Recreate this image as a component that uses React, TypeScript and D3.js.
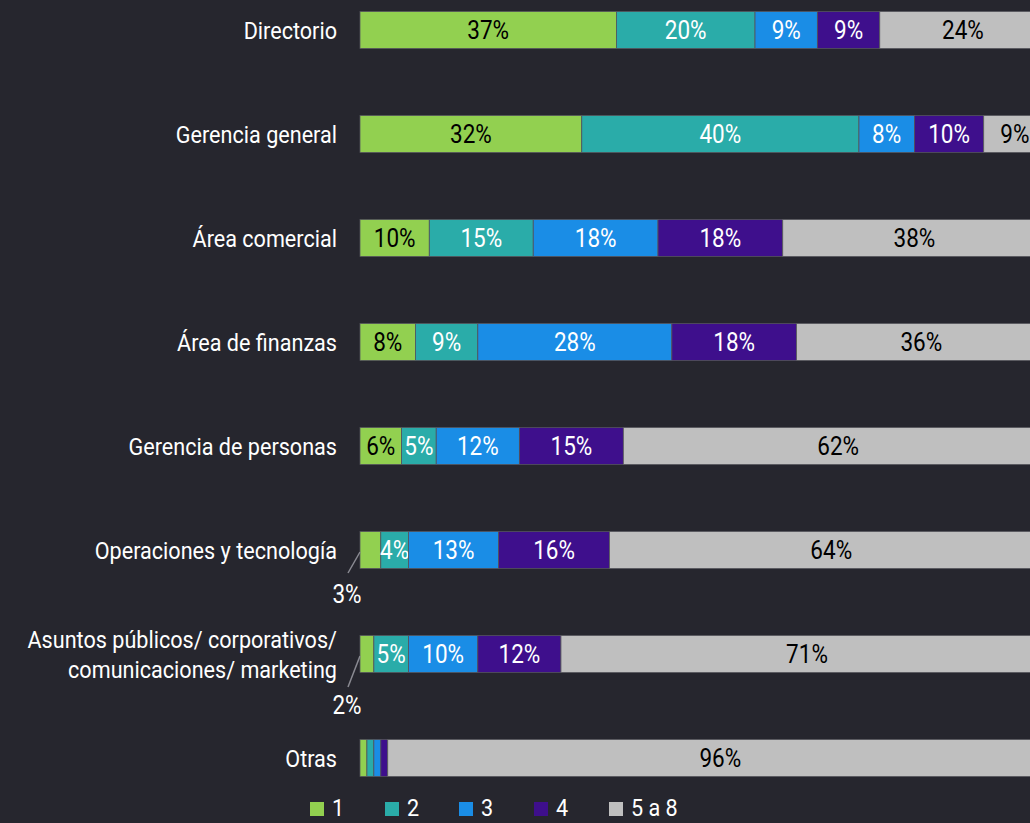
import { useEffect } from "react";
import * as d3 from "d3";

// categories (top to bottom) and the five series, in %
const categories = [
  "Directorio",
  "Gerencia general",
  "Área comercial",
  "Área de finanzas",
  "Gerencia de personas",
  "Operaciones y tecnología",
  "Asuntos públicos/ corporativos/\ncomunicaciones/ marketing",
  "Otras",
];
const seriesNames = ["1", "2", "3", "4", "5 a 8"];
const s1 = [37, 32, 10, 8, 6, 3, 2, 1];
const s2 = [20, 40, 15, 9, 5, 4, 5, 1];
const s3 = [9, 8, 18, 28, 12, 13, 10, 1];
const s4 = [9, 10, 18, 18, 15, 16, 12, 1];
const s5 = [24, 9, 38, 36, 62, 64, 71, 96];
// first-segment labels drawn below the bar with a leader line (value: leader length / label drop)
const outsideLabels: Record<string, [number, number]> = {
  "Operaciones y tecnología": [21, 34],
  "Asuntos públicos/ corporativos/\ncomunicaciones/ marketing": [31, 41],
};

const colors = ["#92d050", "#2aaca9", "#1a8de6", "#3e0f8c", "#bfbfbf"];
const textColors = ["#000", "#fff", "#fff", "#fff", "#000"];

const W = 1030;
const H = 823;
const FONT = "Roboto, 'DejaVu Sans Condensed', sans-serif";
const SX = 0.9; // condense the text horizontally

function T({ x, y, anchor = "start", size = 24, fill = "#fff", children }: any) {
  return (
    <text
      transform={`translate(${x},${y}) scale(${SX},1)`}
      textAnchor={anchor}
      fontSize={size}
      fontWeight={400}
      fill={fill}
    >
      {children}
    </text>
  );
}

export default function App() {
  useEffect(() => {
    document.body.style.margin = "0";
    document.body.style.background = "#26262e";
  }, []);

  const seriesVals = [s1, s2, s3, s4, s5];
  const rows = categories.map((c, i) => {
    const r: any = { cat: c };
    seriesNames.forEach((s, k) => (r[s] = seriesVals[k][i]));
    return r;
  });
  const stacked = d3.stack().keys(seriesNames)(rows);

  const x = d3.scaleLinear().domain([0, 100]).range([360, 1053]);
  const y = d3.scaleBand().domain(categories).range([-22, 810]).paddingInner(0.644).paddingOuter(0.322);
  const bh = y.bandwidth();

  return (
    <svg width={W} height={H} style={{ display: "block", background: "#26262e" }} fontFamily={FONT}>
      {stacked.map((layer, k) => (
        <g key={layer.key}>
          {layer.map((d: any, i) => {
            const cat = categories[i];
            const x0 = x(d[0]);
            const x1 = x(d[1]);
            const v = d[1] - d[0];
            const out = k === 0 ? outsideLabels[cat] : undefined;
            const showInside = !out && !(cat === "Otras" && k < 4);
            const top = y(cat)!;
            return (
              <g key={cat}>
                <rect x={x0} y={top} width={x1 - x0} height={bh} fill={colors[k]} stroke="#55555c" strokeWidth={0.8} />
                {showInside && (
                  <T x={(x0 + Math.min(x1, 1053)) / 2} y={top + bh / 2 + 9} anchor="middle" size={25} fill={textColors[k]}>
                    {v}%
                  </T>
                )}
                {out && (
                  <g>
                    <line
                      x1={x0}
                      y1={top + bh / 2 + 2}
                      x2={x0 - 12}
                      y2={top + bh / 2 + 2 + out[0]}
                      stroke="#8a8a92"
                      strokeWidth={1.5}
                    />
                    <T x={x0 - 13} y={top + bh + out[1]} anchor="middle" size={25}>
                      {v}%
                    </T>
                  </g>
                )}
              </g>
            );
          })}
        </g>
      ))}

      {categories.map((c) => {
        const lines = c.split("\n");
        const cy = y(c)! + bh / 2;
        return (
          <g key={c}>
            {lines.map((ln, j) => (
              <T key={j} x={337} y={cy + 8.5 + (j - (lines.length - 1) / 2) * 30} anchor="end">
                {ln}
              </T>
            ))}
          </g>
        );
      })}

      {seriesNames.map((s, k) => {
        const lx = [310, 385, 459, 534, 609][k];
        return (
          <g key={s}>
            <rect x={lx} y={802} width={14} height={14} fill={colors[k]} />
            <T x={lx + 22} y={816} size={24}>
              {s}
            </T>
          </g>
        );
      })}
    </svg>
  );
}
